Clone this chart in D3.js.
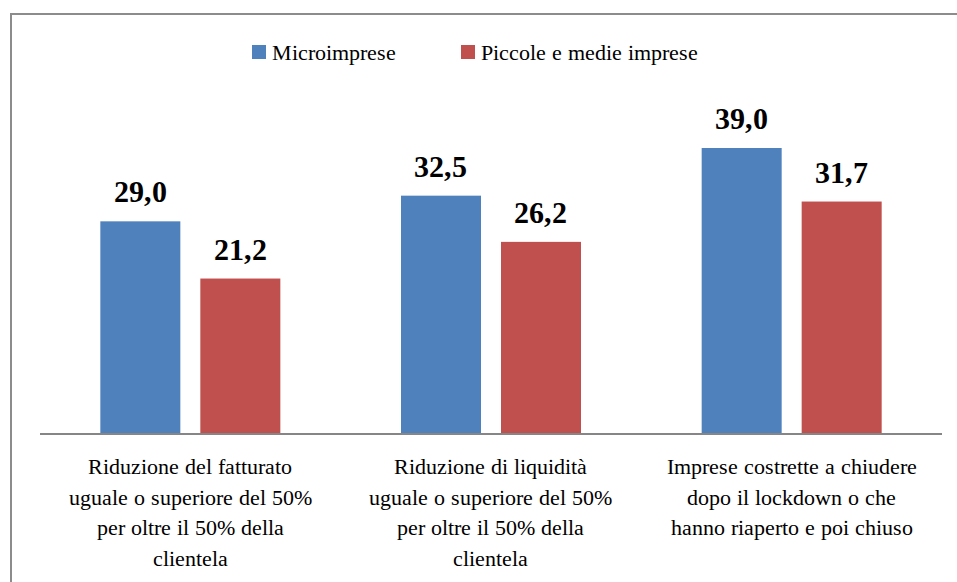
<!DOCTYPE html>
<html>
<head>
<meta charset="utf-8">
<script src="https://cdn.jsdelivr.net/npm/d3@7"></script>
<style>
  @font-face { font-family: "ChartSerif"; src: local("Liberation Serif"), local("LiberationSerif"), local("Times New Roman"); font-weight: normal; }
  @font-face { font-family: "ChartSerif"; src: local("Liberation Serif Bold"), local("LiberationSerif-Bold"), local("Times New Roman Bold"); font-weight: bold; }
  body { margin: 0; }
  #chart text { font-family: "ChartSerif", "Liberation Serif", "Times New Roman", serif !important; }
</style>
</head>
<body>
<svg id="chart" width="957" height="582"></svg>
<script>
// data
var categories = ["c1", "c2", "c3"];
var categoryLines = [
  ["Riduzione del fatturato", "uguale o superiore del 50%", "per oltre il 50% della", "clientela"],
  ["Riduzione di liquidità", "uguale o superiore del 50%", "per oltre il 50% della", "clientela"],
  ["Imprese costrette a chiudere", "dopo il lockdown o che", "hanno riaperto e poi chiuso"]
];
var seriesNames = ["Microimprese", "Piccole e medie imprese"];
var micro = [29.0, 32.5, 39.0];
var pmi = [21.2, 26.2, 31.7];
var colors = ["#4f81bd", "#c0504d"];

var svg = d3.select("#chart");
var fmt = function(v) { return d3.format(".1f")(v).replace(".", ","); };

// outer frame
svg.append("rect")
    .attr("x", 11).attr("y", 14)
    .attr("width", 960).attr("height", 600)
    .attr("fill", "none")
    .attr("stroke", "#8c8c8c")
    .attr("stroke-width", 2);

var left = 40, right = 942, base = 434;

var x0 = d3.scaleBand().domain(categories).range([left, right]).paddingInner(0).paddingOuter(0);
var y = d3.scaleLinear().domain([0, 45]).range([base, base - 330]);

var rows = categories.map(function(c, i) {
  return [{s: 0, v: micro[i]}, {s: 1, v: pmi[i]}];
});

var g = svg.selectAll("g.cat")
  .data(rows)
  .enter().append("g")
    .attr("class", "cat")
    .attr("transform", function(d, i) { return "translate(" + x0(categories[i]) + ",0)"; });

var bw = 80, gap = 20;
var bx = function(d) { return x0.bandwidth() / 2 - bw - gap / 2 + d.s * (bw + gap); };

g.selectAll("rect")
  .data(function(d) { return d; })
  .enter().append("rect")
    .attr("x", bx)
    .attr("y", function(d) { return y(d.v); })
    .attr("width", bw)
    .attr("height", function(d) { return y(0) - y(d.v); })
    .attr("fill", function(d) { return colors[d.s]; });

g.selectAll("text.val")
  .data(function(d) { return d; })
  .enter().append("text")
    .attr("class", "val")
    .attr("x", function(d) { return bx(d) + bw / 2; })
    .attr("y", function(d) { return y(d.v) - 19; })
    .attr("text-anchor", "middle")
    .attr("font-size", 30)
    .attr("font-weight", "bold")
    .text(function(d) { return fmt(d.v); });

// axis line
svg.append("line")
    .attr("x1", left).attr("x2", right)
    .attr("y1", base).attr("y2", base)
    .attr("stroke", "#868686")
    .attr("stroke-width", 2);

// category labels, one text per line
g.each(function(d, i) {
  d3.select(this).selectAll("text.lab")
    .data(categoryLines[i])
    .enter().append("text")
      .attr("class", "lab")
      .attr("x", x0.bandwidth() / 2)
      .attr("y", function(t, j) { return 474 + j * 30.5; })
      .attr("text-anchor", "middle")
      .attr("font-size", 22)
      .text(function(t) { return t; });
});

// legend
var legendX = [252, 461];
var lg = svg.selectAll("g.leg")
  .data(seriesNames)
  .enter().append("g")
    .attr("class", "leg")
    .attr("transform", function(d, i) { return "translate(" + legendX[i] + ",45)"; });
lg.append("rect")
    .attr("width", 14).attr("height", 14)
    .attr("fill", function(d, i) { return colors[i]; });
lg.append("text")
    .attr("x", 20).attr("y", 15)
    .attr("font-size", 22)
    .text(function(d) { return d; });
</script>
</body>
</html>
